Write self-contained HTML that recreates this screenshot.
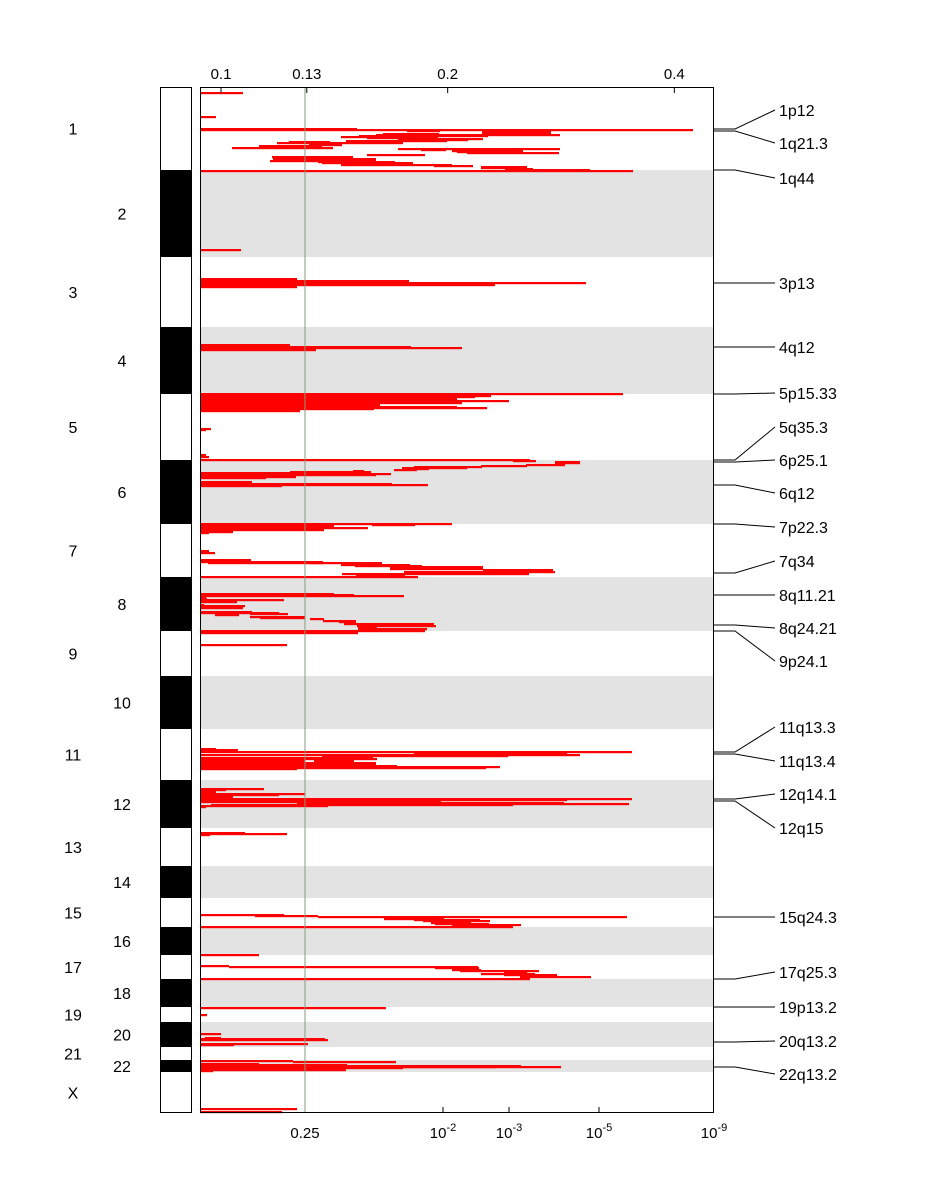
<!DOCTYPE html>
<html><head><meta charset="utf-8">
<style>
html,body{margin:0;padding:0;background:#fff;}
svg{display:block;font-family:"Liberation Sans",Arial,sans-serif;}
</style></head>
<body>
<svg id="chart" width="948" height="1200" viewBox="0 0 948 1200" xmlns="http://www.w3.org/2000/svg">
<rect x="0" y="0" width="948" height="1200" fill="#fff"/>
<g id="bands"></g>
<g id="ideo"></g>
<g id="segs"></g>
<g id="axes"></g>
<g id="peaks"></g>
</svg>
<script>
// ---- data ----
const chromNames = ["1","2","3","4","5","6","7","8","9","10","11","12","13","14","15","16","17","18","19","20","21","22","X"];
const chromStarts = [0,83,170,240,307,373,437,490,544,589,642,693,741,779,811,840,868,892,920,935,960,973,985];
const genomeEnd = 1026;
const gTicks = [0.1,0.13,0.2,0.4];
const gTickLabels = ["0.1","0.13","0.2","0.4"];
const qTickScore = [105,243,309,399,514];
const qTickBase = ["0.25","10","10","10","10"];
const qTickExp = ["","-2","-3","-5","-9"];
const threshold = 105;
const peakNames = ["1p12","1q21.3","1q44","3p13","4q12","5p15.33","5q35.3","6p25.1","6q12","7p22.3","7q34","8q11.21","8q24.21","9p24.1","11q13.3","11q13.4","12q14.1","12q15","15q24.3","17q25.3","19p13.2","20q13.2","22q13.2"];
const peakPos = [42,44,83,196,260,307,373,375,398,437,486,508,538,544,665,667,712,714,830,892,920,955,980];
const peakLabelPos = [23,56,91,196,260,306,340,373,406,440,474,508,541,574,640,674,707,741,830,885,920,954,987];
// segments: [genome position, score start, score end]
const segments = [
[6,0,43],[30,0,16],[42,0,157],[43,0,157],[43,157,493],[44,207,240],[45,282,351],[46,282,351],[47,183,239],[48,176,360],[49,159,288],[50,141,211],[51,167,238],[52,198,283],[53,198,268],[54,146,247],[55,89,130],[56,77,203],[58,109,142],[59,59,122],[60,59,122],[61,32,133],[62,198,360],[63,221,246],[64,252,323],[65,257,313],[66,267,359],[68,167,225],[70,72,153],[71,96,153],[72,73,176],[73,96,176],[74,70,166],[75,118,195],[76,122,213],[78,141,252],[79,234,273],[80,281,327],[81,281,327],[82,305,333],[83,305,390],[84,0,433],
[163,0,41],
[192,0,97],[194,0,209],[196,0,386],[198,0,295],[200,0,97],
[258,0,90],[259,0,90],[260,0,211],[261,0,262],[263,0,116],
[307,0,423],[308,0,100],[309,0,291],[310,0,275],[311,0,257],[312,0,257],[313,0,257],[314,0,309],[315,0,257],[316,0,262],[317,0,161],[318,0,180],[319,0,180],[320,0,257],[321,0,287],[322,0,174],[323,0,100],[324,0,100],
[342,0,11],[343,0,6],[368,0,6],[370,0,9],
[373,0,306],[373,306,330],[374,313,336],[375,355,380],[376,355,380],[378,326,365],[379,281,327],[380,214,282],[381,202,267],[382,209,229],[383,194,217],[384,153,164],[385,90,171],[386,4,171],[386,0,90],[387,0,191],[388,0,176],[389,0,43],[390,0,96],[391,0,66],[395,0,52],[396,0,52],[397,0,192],[398,0,228],[399,0,82],
[437,0,252],[438,172,215],[439,0,134],[440,0,134],[441,0,168],[442,0,105],[443,0,124],[445,0,33],[446,0,9],
[464,0,9],[466,0,15],
[473,0,51],[474,0,51],[475,0,123],[476,8,123],[476,109,182],[478,141,210],[479,155,222],[480,190,283],[481,190,283],[482,190,283],[483,283,353],[485,204,355],[486,204,295],[487,142,329],[489,156,205],[490,0,218],
[507,0,134],[508,0,134],[508,134,154],[509,0,204],[510,0,6],[512,0,7],[513,0,84],[514,0,12],[515,0,37],[518,0,4],[519,0,45],[520,0,33],[521,0,43],[525,0,52],[526,0,79],[527,15,39],[527,50,88],[528,15,39],[530,50,105],[531,60,105],[532,110,124],[534,123,156],[535,139,156],[537,144,234],[539,157,236],[540,158,177],[542,158,227],[543,175,225],[544,0,225],[546,0,158],
[558,0,87],
[662,0,16],[663,0,38],[665,0,432],[665,292,362],[666,292,362],[667,292,362],[666,214,367],[667,216,292],[668,0,380],[669,122,308],[671,0,173],[672,0,177],[673,0,105],[674,114,154],[674,0,105],[675,0,105],[676,0,176],[677,0,176],[678,0,105],[679,0,197],[680,0,300],[681,0,286],[682,0,97],
[702,0,64],[703,0,26],[705,0,16],[707,0,105],[708,0,79],[710,0,33],[712,0,432],[713,0,367],[714,0,23],[715,0,241],[716,97,364],[717,246,429],[718,11,313],[719,0,128],[720,0,6],
[746,0,45],[747,0,87],[748,0,10],
[828,0,84],[829,55,118],[830,118,427],[831,194,228],[832,184,244],[833,214,280],[834,223,290],[836,231,271],[837,235,289],[838,252,321],[840,0,313],
[868,0,59],
[879,0,29],[880,29,278],[881,235,279],[883,252,281],[884,260,339],[885,304,325],[886,310,327],[887,281,335],[888,304,357],[889,339,357],[890,320,391],[892,0,330],
[921,0,186],[928,0,7],
[947,0,21],[951,5,21],[952,0,125],[953,0,128],[957,0,108],[958,0,34],
[974,0,93],[975,93,196],[977,0,59],[978,0,147],[979,0,135],[979,0,321],[980,0,361],[980,72,296],[981,0,203],[982,0,135],[983,0,146],[984,0,13],
[1022,0,97],[1025,0,82]
];
// ---- layout ----
const X0=200, X1=714, Y0=87, Y1=1113, UMAX=514;
const xs = u => X0 + u*(X1-X0)/UMAX;
const ys = p => Y0 + p*(Y1-Y0)/genomeEnd;
const gx = g => 221 + 327*Math.log(g/0.1);
const NS="http://www.w3.org/2000/svg";
function mk(tag, attrs, parent){const e=document.createElementNS(NS,tag);for(const k in attrs)e.setAttribute(k,attrs[k]);parent.appendChild(e);return e;}
const bands=document.getElementById('bands'), ideo=document.getElementById('ideo'), segsG=document.getElementById('segs'), axes=document.getElementById('axes'), peaks=document.getElementById('peaks');

chromNames.forEach((n,i)=>{
  const a=ys(chromStarts[i]), b=ys(i+1<chromStarts.length?chromStarts[i+1]:genomeEnd);
  const even=(i%2===1);
  if(even){
    const r=mk('rect',{x:X0,y:a,width:X1-X0,height:b-a,fill:'#e3e3e3'},bands);
    
    
    const c=mk('rect',{x:160,y:a,width:31,height:b-a,fill:'#000'},ideo);
    
    
  }
  const t=mk('text',{x:even?122:73,y:(a+b)/2+6,'font-size':16,'text-anchor':'middle',fill:'#000'},ideo);
  t.textContent=n;
  
  
});
const io=mk('rect',{x:160.5,y:87.5,width:31,height:1025,fill:'none',stroke:'#000','stroke-width':1},ideo);



segments.forEach(s=>{
  const r=mk('rect',{x:xs(s[1]),y:ys(s[0])-1,width:Math.max(1,xs(s[2])-xs(s[1])),height:2.2,fill:'#ff0000'},segsG);
  
  
});

const th=mk('line',{x1:xs(threshold),x2:xs(threshold),y1:Y0,y2:Y1,stroke:'#8a9a80','stroke-width':1},axes);


const frame=mk('rect',{x:200.5,y:87.5,width:513,height:1025,fill:'none',stroke:'#000','stroke-width':1},axes);



gTicks.forEach((g,i)=>{
  const x=gx(g);
  const l=mk('line',{x1:x,x2:x,y1:87,y2:93,stroke:'#000'},axes);
  
  
  const t=mk('text',{x:x,y:79,'font-size':15,'text-anchor':'middle'},axes);
  t.textContent=gTickLabels[i];
  
  
});
qTickScore.forEach((u,i)=>{
  const x=xs(u);
  if(i>0&&i<qTickScore.length-1){
    const l=mk('line',{x1:x,x2:x,y1:1107,y2:1113,stroke:'#000'},axes);
    
    
  }
  const t=mk('text',{x:x,y:1138,'font-size':15,'text-anchor':'middle'},axes);
  
  
  t.textContent=qTickBase[i];
  if(qTickExp[i]){
    const sp=document.createElementNS(NS,'tspan');
    sp.setAttribute('dy','-7');sp.setAttribute('font-size','11');
    sp.textContent=qTickExp[i];t.appendChild(sp);
  }
});

peakNames.forEach((n,i)=>{
  const py=ys(peakPos[i]), ly=ys(peakLabelPos[i]);
  const pl=mk('polyline',{points:`${X1},${py} 735,${py} 775,${ly}`,fill:'none',stroke:'#000','stroke-width':1},peaks);
  
  
  const t=mk('text',{x:779,y:ly+6,'font-size':16},peaks);
  t.textContent=n;
  
  
});
</script>
</body></html>
